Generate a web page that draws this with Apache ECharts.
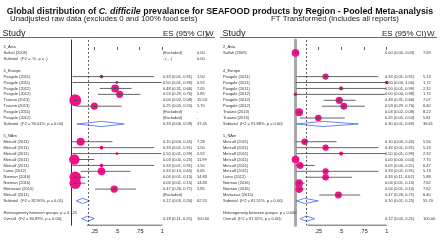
<!DOCTYPE html>
<html><head><meta charset="utf-8">
<script src="https://cdn.jsdelivr.net/npm/echarts@6/dist/echarts.min.js"></script>
<style>html,body{margin:0;padding:0;background:#fff}#c{width:440px;height:243px}</style>
</head><body><div id="c"></div>
<script>
// ---------- data ----------
const tickValues = [0.25, 0.5, 0.75, 1];
const tickLabels = ['.25', '.5', '.75', '1'];

const leftLabels = ['2_Asia','Sallah (2009)','Subtotal  (I^2 = .%, p = .)','','4_Europe','Pasgale (2011)','Pasgale (2011)','Pasgale (2012)','Pasgale (2012)','Traiano (2013)','Traiano (2013)','Pasgale (2011)','Pasgale (2012)','Subtotal  (I^2 = 90.01%, p = 0.00)','','5_NAm','Metcalf (2011)','Metcalf (2011)','Metcalf (2011)','Metcalf (2011)','Metcalf (2011)','Laino (2012)','Norman (2016)','Norman (2016)','Mortazavi (2015)','Metcalf (2011)','Subtotal  (I^2 = 82.90%, p = 0.01)','','Heterogeneity between groups: p = 0.125','Overall  (I^2 = 80.89%, p = 0.00);'];
const leftKinds = ['group','excl','sub','blank','group','study','study','study','study','study','study','excl','excl','sub','blank','group','study','study','study','study','study','study','study','study','study','excl','sub','blank','het','overall'];
const leftES = [null,null,null,null,null,0.33,0.50,0.48,0.53,0.04,0.25,null,null,0.33,null,null,0.10,0.33,0.50,0.03,0.33,0.33,0.04,0.04,0.47,null,0.12,null,null,0.18];
const leftLo = [null,null,null,null,null,0.01,0.01,0.31,0.29,0.02,0.05,null,null,0.06,null,null,0.00,0.01,0.01,0.00,0.01,0.10,0.01,0.01,0.26,null,0.05,null,null,0.11];
const leftHi = [null,null,null,null,null,0.91,0.99,0.66,0.76,0.08,0.55,null,null,0.58,null,null,0.45,0.91,0.99,0.25,0.91,0.65,0.15,0.15,0.71,null,0.20,null,null,0.25];
const leftW = [null,0,0,null,null,1.50,0.92,7.05,5.85,15.53,5.70,null,null,37.45,null,null,7.28,1.50,0.92,11.99,1.50,6.65,14.83,14.83,5.85,null,62.55,null,null,100];
const leftAxisStart = 0.17;

const rightLabels = ['2_Asia','Sallah (2009)','','','4_Europe','Pasgale (2011)','Pasgale (2011)','Pasgale (2011)','Pasgale (2012)','Pasgale (2012)','Pasgale (2012)','Traiano (2013)','Traiano (2013)','Subtotal  (I^2 = 91.88%, p = 0.00)','','5_NAm','Metcalf (2011)','Metcalf (2011)','Metcalf (2011)','Metcalf (2011)','Metcalf (2011)','Metcalf (2011)','Laino (2012)','Norman (2016)','Norman (2016)','Mortazavi (2015)','Subtotal  (I^2 = 81.51%, p = 0.00)','','Heterogeneity between groups: p = 0.000','Overall  (I^2 = 87.32%, p = 0.00);'];
const rightKinds = ['group','study','blank','blank','group','study','study','study','study','study','study','study','study','sub','blank','group','study','study','study','study','study','study','study','study','study','study','sub','blank','het','overall'];
const rightES = [null,0.00,null,null,null,0.33,1.00,0.50,0.00,0.48,0.53,0.04,0.25,0.30,null,null,0.10,0.33,0.50,0.00,0.05,0.33,0.33,0.04,0.04,0.47,0.10,null,null,0.12];
const rightLo = [null,0.00,null,null,null,0.01,0.00,0.01,0.00,0.31,0.29,0.02,0.05,0.01,null,null,0.00,0.01,0.01,0.00,0.00,0.01,0.11,0.01,0.01,0.26,0.01,null,null,0.05];
const rightHi = [null,0.03,null,null,null,0.91,1.00,0.99,0.98,0.66,0.76,0.08,0.54,0.69,null,null,0.45,0.91,0.99,0.04,0.21,0.91,0.62,0.10,0.10,0.71,0.25,null,null,0.21];
const rightW = [null,7.69,null,null,null,5.13,1.72,2.32,1.72,7.07,6.40,8.22,5.81,36.61,null,null,5.56,5.13,2.32,7.75,6.47,5.13,5.88,7.62,7.62,6.40,55.70,null,null,100];
const rightAxisStart = 0.13;

// ---------- layout / style ----------
const FONT = '"Liberation Sans", Arial, sans-serif';
const ROW_FS = 4;
const PINK = '#f5108a';
const BLUE = '#4466ee';
const ROW_MIN = -1.2, ROW_MAX = 30.1;
const GTOP = 39.9, GH = 185.3;

const panels = [
  {labels:leftLabels, kinds:leftKinds, es:leftES, lo:leftLo, hi:leftHi, w:leftW, axisStart:leftAxisStart,
   left:71.6, width:90.7, nameX:3.5, esX:163, wX:197, k:3.0, zeroColor:'#333', zeroWidth:1},
  {labels:rightLabels, kinds:rightKinds, es:rightES, lo:rightLo, hi:rightHi, w:rightW, axisStart:rightAxisStart,
   left:295.5, width:91.2, nameX:223, esX:385, wX:423, k:2.75, zeroColor:'#a8a8a8', zeroWidth:3}
];

function fmt(v){ return v.toFixed(2); }
function esText(P, i){
  const k = P.kinds[i];
  if (k === 'excl') return '(Excluded)';
  if (k === 'sub' || k === 'study' || k === 'overall') {
    if (P.es[i] == null) return '. (., .)';
    return fmt(P.es[i]) + ' (' + fmt(P.lo[i]) + ', ' + fmt(P.hi[i]) + ')';
  }
  return '';
}
function wText(P, i){
  const k = P.kinds[i];
  if (k === 'group' || k === 'blank' || k === 'het') return '';
  if (P.w[i] == null) return '.';
  return fmt(P.w[i]);
}

const chart = echarts.init(document.getElementById('c'), null, {renderer:'canvas'});
const grids = [], xAxes = [], yAxes = [], series = [];

panels.forEach((P, pi) => {
  grids.push({left:P.left, width:P.width, top:GTOP, height:GH, containLabel:false});
  xAxes.push({type:'value', gridIndex:pi, min:0, max:1,
    axisLine:{show:false}, splitLine:{show:false},
    axisTick:{show:true, customValues:tickValues, length:3, lineStyle:{color:'#333', width:0.8}},
    axisLabel:{show:true, customValues:tickValues, margin:3, fontSize:5.5, fontFamily:FONT, color:'#222',
      formatter: v => { const j = tickValues.findIndex(t => Math.abs(t - v) < 1e-9); return j >= 0 ? tickLabels[j] : ''; }}
  });
  yAxes.push({type:'value', gridIndex:pi, inverse:true, min:ROW_MIN, max:ROW_MAX,
    axisLine:{show:true, onZero:false, lineStyle:{color:P.zeroColor, width:P.zeroWidth}},
    axisTick:{show:false}, axisLabel:{show:false}, splitLine:{show:false}});

  const mData = [];
  P.kinds.forEach((k, i) => { if (k === 'study' && P.es[i] != null) mData.push([P.es[i], i, P.w[i]]); });
  const ov = P.kinds.indexOf('overall');
  series.push({type:'scatter', xAxisIndex:pi, yAxisIndex:pi, data:mData, z:2,
    symbol:'circle', symbolSize: v => P.k * Math.sqrt(v[2]),
    itemStyle:{color:PINK, opacity:1}, silent:true, animation:false,
    markLine:{silent:true, symbol:'none', label:{show:false}, animation:false,
      lineStyle:{color:'#333', type:[2,2], width:0.8},
      data:[{xAxis:P.es[ov]}]}
  });

  series.push({type:'line', xAxisIndex:pi, yAxisIndex:pi, data:[[P.axisStart, ROW_MAX],[1, ROW_MAX]],
    symbol:'none', clip:false, lineStyle:{color:'#333', width:0.8}, animation:false, silent:true, z:1});

  series.push({type:'custom', xAxisIndex:pi, yAxisIndex:pi, z:3, animation:false, silent:true, clip:false,
    data: P.labels.map((_, i) => [0, i]),
    renderItem: (params, api) => {
      const i = params.dataIndex;
      const k = P.kinds[i];
      const y = api.coord([0, i])[1];
      const ch = [];
      if (k === 'study' && P.es[i] != null) {
        const a = api.coord([P.lo[i], i]), b = api.coord([P.hi[i], i]);
        ch.push({type:'line', shape:{x1:a[0], y1:y, x2:b[0], y2:y}, style:{stroke:'#555', lineWidth:0.9}});
        const c = api.coord([P.es[i], i]);
        ch.push({type:'circle', shape:{cx:c[0], cy:y, r:0.6}, style:{fill:'#333'}});
      }
      if ((k === 'sub' || k === 'overall') && P.es[i] != null) {
        const a = api.coord([P.lo[i], i]), b = api.coord([P.hi[i], i]), c = api.coord([P.es[i], i]);
        const h = 2.6;
        ch.push({type:'polygon', shape:{points:[[a[0],y],[c[0],y-h],[b[0],y],[c[0],y+h]]},
          style:{fill:'none', stroke:BLUE, lineWidth:0.8}});
      }
      const tstyle = {fontSize:ROW_FS, fontFamily:FONT, fill:'#333', verticalAlign:'middle'};
      if (P.labels[i]) ch.push({type:'text', style:Object.assign({text:P.labels[i], x:P.nameX, y:y, align:'left'}, tstyle)});
      const et = esText(P, i);
      if (et) ch.push({type:'text', style:Object.assign({text:et, x:P.esX, y:y, align:'left'}, tstyle)});
      const wt = wText(P, i);
      if (wt) ch.push({type:'text', style:Object.assign({text:wt, x:P.wX, y:y, align:'left'}, tstyle)});
      return {type:'group', children:ch};
    }
  });
});

const option = {
  backgroundColor:'#fff',
  animation:false,
  title:{
    text:'{b|Global distribution of }{i|C. difficile}{b| prevalance for SEAFOOD products by Region - Pooled Meta-analysis}',
    left:'center', top:2.5,
    textStyle:{rich:{
      b:{fontSize:8.85, fontWeight:'bold', fontFamily:FONT, color:'#111'},
      i:{fontSize:8.85, fontWeight:'bold', fontStyle:'italic', fontFamily:FONT, color:'#111'}
    }}
  },
  grid:grids, xAxis:xAxes, yAxis:yAxes, series:series,
  graphic:[
    {type:'text', left:10, top:15, style:{text:'Unadjusted raw data (excludes 0 and 100% food sets)', fontSize:7.8, fontFamily:FONT, fill:'#222'}},
    {type:'text', left:271, top:15, style:{text:'FT Transformed (includes all reports)', fontSize:7.8, fontFamily:FONT, fill:'#222'}},
    {type:'text', left:2.5, top:29, style:{text:'Study', fontSize:9, fontFamily:FONT, fill:'#222'}},
    {type:'text', left:163, top:29.5, style:{text:'ES (95% CI)', fontSize:8, fontFamily:FONT, fill:'#222'}},
    {type:'text', left:206, top:29.5, style:{text:'W', fontSize:8, fontFamily:FONT, fill:'#222'}},
    {type:'text', left:222.5, top:29, style:{text:'Study', fontSize:9, fontFamily:FONT, fill:'#222'}},
    {type:'text', left:382, top:29.5, style:{text:'ES (95% CI)', fontSize:8, fontFamily:FONT, fill:'#222'}},
    {type:'text', left:427, top:29.5, style:{text:'W', fontSize:8, fontFamily:FONT, fill:'#222'}},
    {type:'line', shape:{x1:0, y1:37.5, x2:215, y2:37.5}, style:{stroke:'#444', lineWidth:0.8}},
    {type:'line', shape:{x1:220, y1:37.5, x2:437, y2:37.5}, style:{stroke:'#444', lineWidth:0.8}}
  ]
};
chart.setOption(option);
</script>
</body></html>
